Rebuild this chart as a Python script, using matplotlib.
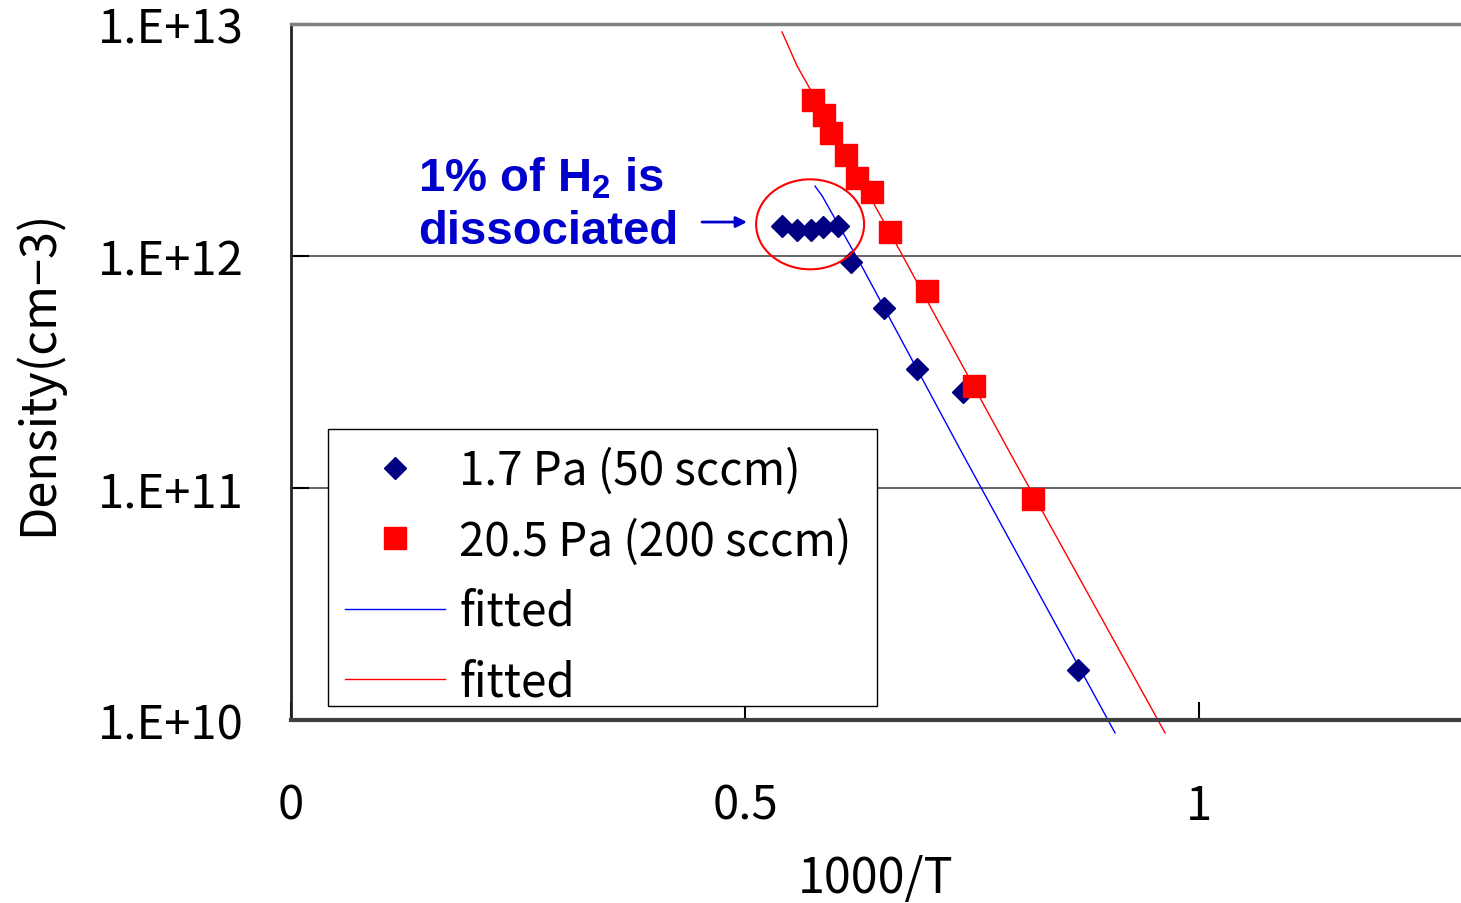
import matplotlib
matplotlib.use("Agg")
import matplotlib.pyplot as plt
from matplotlib.patches import Ellipse, Rectangle

plt.rcParams.update({
    'font.family': ['Noto Sans CJK JP', 'DejaVu Sans'],
    'font.size': 34,
    'mathtext.fontset': 'custom',
    'mathtext.rm': 'Liberation Sans:bold',
    'mathtext.bf': 'Liberation Sans:bold',
})

# 1.7 Pa (50 sccm) measured points
x_low = [0.5404, 0.5569, 0.5727, 0.5862, 0.6021, 0.6167, 0.6531, 0.6894, 0.7401, 0.8667]
n_low = [1.35e12, 1.29e12, 1.29e12, 1.33e12, 1.35e12, 9.4e11, 6.0e11, 3.26e11, 2.60e11, 1.65e10]

# 20.5 Pa (200 sccm) measured points
x_high = [0.5752, 0.5870, 0.5950, 0.6112, 0.6230, 0.6395, 0.6597, 0.6999, 0.7525, 0.8168]
n_high = [4.70e12, 4.06e12, 3.39e12, 2.72e12, 2.18e12, 1.89e12, 1.27e12, 7.08e11, 2.76e11, 8.98e10]

# fitted curves
x_fit_low = [0.5771, 0.5848, 0.6289, 0.7368, 0.9075]
n_fit_low = [2.00e12, 1.82e12, 8.99e11, 1.47e11, 8.8e9]
x_fit_high = [0.5407, 0.5573, 0.5716, 0.6674, 0.7115, 0.7896, 0.9626]
n_fit_high = [9.25e12, 6.60e12, 5.25e12, 1.11e12, 5.35e11, 1.47e11, 8.8e9]

y_ticks = [1e10, 1e11, 1e12, 1e13]
y_ticklabels = ['1.E+10', '1.E+11', '1.E+12', '1.E+13']
x_ticks = [0, 0.5, 1]
x_ticklabels = ['0', '0.5', '1']

fig = plt.figure(figsize=(14.61, 9.04), dpi=100)
ax = fig.add_axes([0.1992, 0.2024, 0.8008, 0.7699])

ax.plot(x_fit_low, n_fit_low, '-', color='#0000FF', lw=1.0, label='fitted',
        zorder=2, clip_on=False)
ax.plot(x_fit_high, n_fit_high, '-', color='#FF0000', lw=1.0, label='fitted',
        zorder=2, clip_on=False)
ax.plot(x_low, n_low, 'D', color='#000080', markersize=11.5, mec='#000080',
        linestyle='none', label='1.7 Pa (50 sccm)', zorder=3)
ax.plot(x_high, n_high, 's', color='#FF0000', markersize=15.5, mec='#FF0000',
        linestyle='none', label='20.5 Pa (200 sccm)', zorder=4)

ax.set_yscale('log')
ax.set_xlim(0, 1.2885)
ax.set_ylim(1e10, 1e13)
ax.set_yticks(y_ticks)
ax.set_yticklabels(y_ticklabels)
ax.minorticks_off()
ax.set_xticks(x_ticks)
ax.set_xticklabels(x_ticklabels)
ax.tick_params(axis='both', direction='in', length=13, width=1.5, color='black',
               labelsize=34)
ax.tick_params(axis='y', pad=34)
ax.tick_params(axis='x', pad=44)

ax.yaxis.grid(True, color='#4a4a4a', lw=1.2)
ax.set_axisbelow(True)
ax.spines['right'].set_visible(False)
ax.spines['top'].set_color('#808080')
ax.spines['top'].set_linewidth(2.5)
ax.spines['left'].set_color('#222222')
ax.spines['left'].set_linewidth(2)
ax.spines['bottom'].set_color('#404040')
ax.spines['bottom'].set_linewidth(3)

ax.set_xlabel('1000/T', fontsize=35)
ax.xaxis.set_label_coords(0.5, -0.192)
ax.set_ylabel('Density(cm\u22123)', fontsize=35)
ax.yaxis.set_label_coords(-0.195, 0.5)

# legend box drawn separately so its padding can follow the original
ax.add_patch(Rectangle((0.0316, 0.0201), 0.4692, 0.398, transform=ax.transAxes,
                       facecolor='white', edgecolor='black', lw=1.0, zorder=4.9))
handles, labels = ax.get_legend_handles_labels()
order = [2, 3, 0, 1]
leg = ax.legend([handles[i] for i in order], [labels[i] for i in order],
                loc='upper left', bbox_to_anchor=(0.0308, 0.4195), fontsize=33,
                frameon=False, handlelength=2.18, handletextpad=0.3,
                labelspacing=0.48, borderpad=0.4, borderaxespad=0)

# annotation: circled points and label
ell_cx = sum(x_low[:5]) / 5
ell_cy = 1.37e12
fig.canvas.draw()
cx, cy = ax.transAxes.inverted().transform(ax.transData.transform((ell_cx, ell_cy)))
ax.add_patch(Ellipse((cx, cy), 0.0923, 0.1293, transform=ax.transAxes,
                     fill=False, edgecolor='#FF0000', lw=1.5, zorder=5,
                     clip_on=False))

blue_txt = '#0000CC'
ax.text(0.1085, 0.7615, r'1% of H$_{\mathrm{2}}$ is', transform=ax.transAxes,
        fontsize=34, fontweight='bold', color=blue_txt, family='Liberation Sans',
        ha='left', va='baseline')
ax.text(0.1085, 0.6853, 'dissociated', transform=ax.transAxes,
        fontsize=34, fontweight='bold', color=blue_txt, family='Liberation Sans',
        ha='left', va='baseline')
ax.annotate('', xy=(0.3897, 0.7155), xytext=(0.3513, 0.7155),
            xycoords='axes fraction', textcoords='axes fraction',
            arrowprops=dict(arrowstyle='-|>', color=blue_txt, lw=2,
                            mutation_scale=16, shrinkA=0, shrinkB=0))

fig.savefig('out.png', dpi=100)
